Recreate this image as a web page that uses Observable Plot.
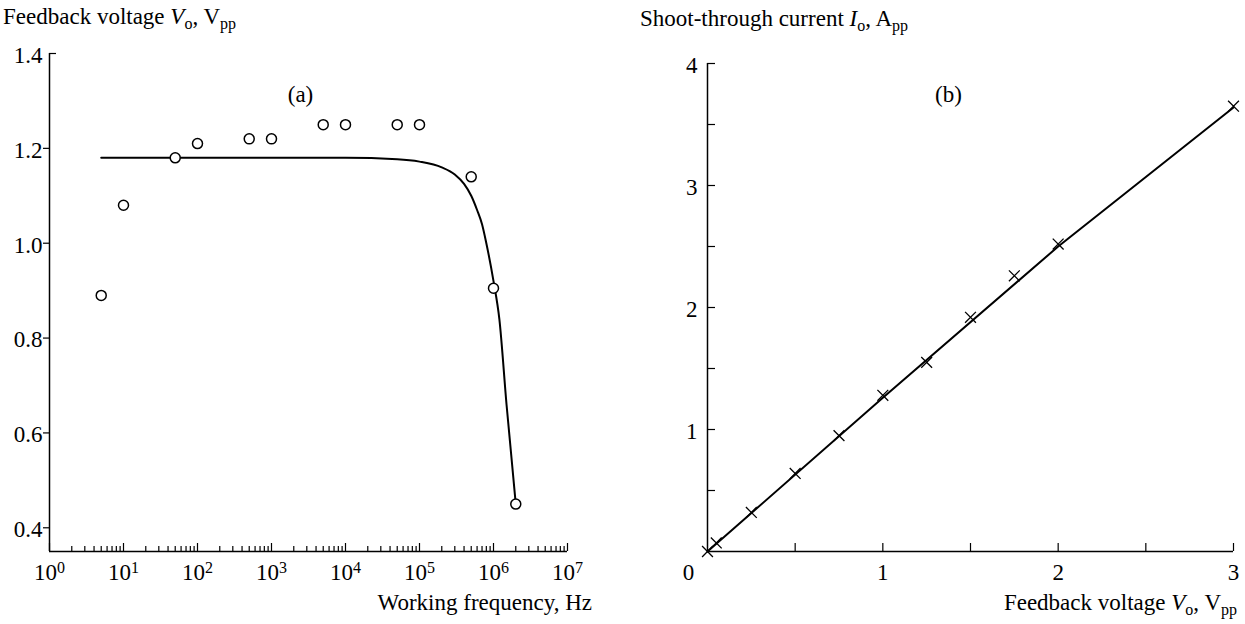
<!DOCTYPE html>
<html><head><meta charset="utf-8">
<script src="https://cdn.jsdelivr.net/npm/d3@7"></script>
<script src="https://cdn.jsdelivr.net/npm/@observablehq/plot@0.6"></script>
<style>
body{margin:0;background:#fff;}
#wrap{position:relative;width:1245px;height:624px;overflow:hidden;font-family:"Liberation Serif","Times New Roman",serif;color:#000;background:#fff;}
#pa{position:absolute;left:0;top:0;width:620px;height:624px;}
#pb{position:absolute;left:620px;top:0;width:625px;height:624px;}
.lbl{position:absolute;font-size:23px;line-height:1;white-space:nowrap;}
.lbl .s{font-size:16px;position:relative;top:5px;}
</style></head><body>
<div id="wrap">
<div id="pa"></div>
<div id="pb"></div>
<div class="lbl" style="left:3px;top:5px">Feedback voltage <i>V</i><span class="s">o</span>, V<span class="s">pp</span></div>
<div class="lbl" style="left:640px;top:7px">Shoot-through current <i>I</i><span class="s">o</span>, A<span class="s">pp</span></div>
<div class="lbl" style="right:653px;top:591px">Working frequency, Hz</div>
<div class="lbl" style="right:8px;top:591px">Feedback voltage <i>V</i><span class="s">o</span>, V<span class="s">pp</span></div>
</div>
<script>
// ---- Panel (a): feedback voltage vs working frequency ----
const freqHz      = [5, 10, 50, 100, 500, 1000, 5000, 1e4, 5e4, 1e5, 5e5, 1e6, 2e6];
const voltageMeas = [0.89, 1.08, 1.18, 1.21, 1.22, 1.22, 1.25, 1.25, 1.25, 1.25, 1.14, 0.905, 0.45];
const fitFreqHz   = [5, 100, 1000, 1e4, 5e4, 1e5, 2e5, 3e5, 4e5, 5e5, 6e5, 7e5, 8e5, 1e6, 1.2e6, 1.5e6, 2e6];
const fitVoltage  = [1.18, 1.18, 1.18, 1.18, 1.177, 1.172, 1.16, 1.145, 1.125, 1.10, 1.07, 1.04, 1.0, 0.92, 0.84, 0.66, 0.45];
const decadeTicks = [1, 10, 100, 1e3, 1e4, 1e5, 1e6, 1e7];
const decadeExp   = ["0", "1", "2", "3", "4", "5", "6", "7"];
const minorMult   = [2, 3, 4, 5, 6, 7, 8, 9];
const yTicksA     = [0.4, 0.6, 0.8, 1.0, 1.2];
const yTopA       = [1.4];

// ---- Panel (b): shoot-through current vs feedback voltage ----
const feedbackV   = [0, 0.05, 0.25, 0.5, 0.75, 1.0, 1.25, 1.5, 1.75, 2.0, 3.0];
const currentA    = [0, 0.07, 0.32, 0.64, 0.95, 1.28, 1.55, 1.92, 2.26, 2.52, 3.65];
const lineV       = [0, 1, 2, 3];
const lineI       = [0, 1.26, 2.5, 3.64];
const xTicksB     = [0.5, 1, 1.5, 2, 2.5, 3];
const xLabelsB    = [1, 2, 3];
const yTicksB     = [0.5, 1, 1.5, 2, 2.5, 3, 3.5, 4];
const yLabelsB    = [1, 2, 3, 4];

const minorTicks = decadeTicks.slice(0, -1).flatMap(d => minorMult.map(m => m * d));
const measA = freqHz.map((f, i) => ({f, v: voltageMeas[i]}));
const fitA = fitFreqHz.map((f, i) => ({f, v: fitVoltage[i]}));
const measB = feedbackV.map((v, i) => ({v, c: currentA[i]}));
const fitB = lineV.map((v, i) => ({v, c: lineI[i]}));

const font = {fontFamily: '"Liberation Serif","Times New Roman",serif', fontSize: "23px", color: "black", background: "transparent", overflow: "visible"};
const blank = () => "";
const intFmt = d3.format("d");

const plotA = Plot.plot({
  width: 620, height: 624,
  marginLeft: 49, marginRight: 53, marginTop: 53, marginBottom: 73,
  style: font,
  x: {type: "log", domain: [1, 1e7]},
  y: {domain: [0.35, 1.4]},
  marks: [
    Plot.axisX({ticks: minorTicks, tickSize: -5, tickFormat: blank, label: null, strokeWidth: 1.2}),
    Plot.axisX({ticks: decadeTicks, tickSize: -8, tickFormat: blank, label: null, strokeWidth: 1.2}),
    Plot.axisX({ticks: decadeTicks, tickSize: 0, tickPadding: 12, label: null,
      tickFormat: d => "10^" + decadeExp[decadeTicks.indexOf(d)]}),
    Plot.axisY({ticks: yTicksA, tickSize: 6, tickFormat: blank, label: null, strokeWidth: 1.2}),
    Plot.axisY({ticks: yTopA, tickSize: -7, tickFormat: blank, label: null, strokeWidth: 1.2}),
    Plot.axisY({ticks: [...yTicksA, ...yTopA], tickSize: 0, tickPadding: 7, dy: 2, label: null, tickFormat: d3.format(".1f")}),
    Plot.ruleX([1], {stroke: "black", strokeWidth: 1.5}),
    Plot.ruleY([0.35], {stroke: "black", strokeWidth: 1.5}),
    Plot.line(fitA, {x: "f", y: "v", curve: "monotone-x", stroke: "black", strokeWidth: 2}),
    Plot.dot(measA, {x: "f", y: "v", r: 5, fill: "white", stroke: "black", strokeWidth: 1.5}),
    Plot.text(["(a)"], {frameAnchor: "top", dx: -8, dy: 32})
  ]
});

const plotB = Plot.plot({
  width: 625, height: 624,
  marginLeft: 87, marginRight: 12, marginTop: 63, marginBottom: 73,
  style: font,
  x: {domain: [0, 3]},
  y: {domain: [0, 4]},
  marks: [
    Plot.axisX({ticks: xTicksB, tickSize: -8, tickFormat: blank, label: null, strokeWidth: 1.2}),
    Plot.axisX({ticks: xLabelsB, tickSize: 0, tickPadding: 12, label: null, tickFormat: intFmt}),
    Plot.axisX({ticks: [0], tickSize: 0, tickPadding: 12, dx: -19, label: null, tickFormat: intFmt}),
    Plot.axisY({ticks: yTicksB, tickSize: -8, tickFormat: blank, label: null, strokeWidth: 1.2}),
    Plot.axisY({ticks: yLabelsB, tickSize: 0, tickPadding: 10, dy: 2, label: null, tickFormat: intFmt}),
    Plot.ruleX([0], {stroke: "black", strokeWidth: 1.5}),
    Plot.ruleY([0], {stroke: "black", strokeWidth: 1.5}),
    Plot.line(fitB, {x: "v", y: "c", stroke: "black", strokeWidth: 2}),
    Plot.dot(measB, {x: "v", y: "c", symbol: "times", r: 5, stroke: "black", strokeWidth: 1.3}),
    Plot.text(["(b)"], {frameAnchor: "top", dx: -22, dy: 22})
  ]
});

// superscript exponents on decade labels
d3.select(plotA).selectAll('g[aria-label="x-axis tick label"] text').each(function() {
  const t = this.textContent;
  if (!t.startsWith("10^")) return;
  const e = t.slice(3);
  this.textContent = "10";
  const ts = document.createElementNS("http://www.w3.org/2000/svg", "tspan");
  ts.setAttribute("dy", "-0.45em");
  ts.setAttribute("font-size", "16");
  ts.textContent = e;
  this.appendChild(ts);
});

document.getElementById("pa").appendChild(plotA);
document.getElementById("pb").appendChild(plotB);
</script>
</body></html>
